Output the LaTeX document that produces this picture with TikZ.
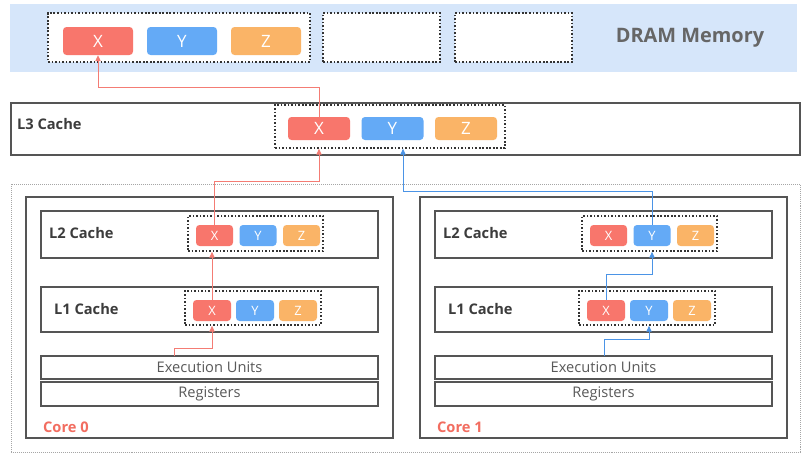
\documentclass[tikz,border=0pt]{standalone}
\usepackage{fontspec}
\setmainfont{Open Sans}
\usetikzlibrary{arrows.meta}

\definecolor{cellred}{HTML}{F8766C}
\definecolor{cellblue}{HTML}{64AAF6}
\definecolor{cellorange}{HTML}{FAB467}
\definecolor{drambg}{HTML}{D6E6FA}
\definecolor{boxline}{HTML}{555555}
\definecolor{labelgray}{HTML}{3C3C3C}
\definecolor{corered}{HTML}{F26D60}
\definecolor{pathred}{HTML}{F47C74}
\definecolor{pathblue}{HTML}{4B94E6}

\newcommand\px{0.03cm}
\newcommand\dramstyle{\fontsize{17}{20}\selectfont\bfseries}
\newcommand\cachestyle{\fontsize{12.5}{15}\selectfont\bfseries}
\newcommand\unitstyle{\fontsize{12.5}{15}\selectfont}

\tikzset{
  cell/.style={rounded corners=3pt, text=white, inner sep=0pt, font=\fontsize{14.5}{17}\selectfont},
  smallcell/.style={cell, font=\fontsize{11}{13}\selectfont},
  dotbox/.style={draw=black!80, fill=white, line width=1.4pt, dash pattern=on 1.4pt off 1.6pt, inner sep=0pt},
  cachebox/.style={draw=boxline, line width=1.1pt, fill=white, inner sep=0pt, text=black!65},
  cachelabel/.style={anchor=west, text=labelgray, font=\cachestyle},
  flowred/.style={draw=pathred, line width=0.8pt, -{Triangle[length=5pt,width=4.5pt]}},
  flowblue/.style={flowred, draw=pathblue},
}

% box node from two corners
\newcommand\boxnode[7]{
  \node[#7, minimum width={(#4-#2)*\px}, minimum height={(#5-#3)*\px}] (#1) at ({(#2+#4)/2},{(#3+#5)/2}) {#6};
}
% dotted group frame
\newcommand\dotframe[5]{
  \boxnode{#1}{#2}{#3}{#4}{#5}{}{dotbox}
}
% the three cache lines X, Y, Z
\newcommand\xyzcells[7]{
  \node[#7, fill=cellred, minimum width=#5*\px, minimum height=#6*\px] (#1x) at (#2, #3) {X};
  \node[#7, fill=cellblue, minimum width=#5*\px, minimum height=#6*\px] (#1y) at ({#2+#4}, #3) {Y};
  \node[#7, fill=cellorange, minimum width=#5*\px, minimum height=#6*\px] (#1z) at ({#2+2*#4}, #3) {Z};
}
% one core with its L1 and L2
\newcommand\core[2]{
  \begin{scope}[xshift=#2*\px]
    \boxnode{core#1}{26}{197}{393}{438}{}{cachebox}
    \boxnode{ltwo#1}{41}{211}{378}{258}{}{cachebox}
    \node[cachelabel] (ltwolabel#1) at (45,233) {L2 Cache};
    \dotframe{ltwodots#1}{188}{216}{323}{251}
    \xyzcells{ltwo#1}{214.5}{235.5}{43.5}{37}{21}{smallcell}
    \boxnode{lone#1}{41}{287}{378}{332}{}{cachebox}
    \node[cachelabel] (lonelabel#1) at (50,309) {L1 Cache};
    \dotframe{lonedots#1}{185}{291}{321}{325}
    \xyzcells{lone#1}{212}{310.5}{43}{38}{21}{smallcell}
    \boxnode{exec#1}{41}{356}{378}{379}{\unitstyle Execution Units}{cachebox}
    \boxnode{regs#1}{41}{382}{378}{406}{\unitstyle Registers}{cachebox}
    \node[anchor=west, text=corered, font=\cachestyle] (corelabel#1) at (39,427) {Core #1};
  \end{scope}
}

\begin{document}
\begin{tikzpicture}[x=\px, y=-\px]
  \useasboundingbox[fill=white] (0,0) rectangle (812,468);

  % DRAM
  \fill[drambg] (10,4) rectangle (797,72);
  \dotframe{dramdots}{48}{13}{310}{62}
  \xyzcells{dram}{98}{41}{84}{70}{28}{cell}
  \dotframe{dramfree1}{323}{13}{440}{62}
  \dotframe{dramfree2}{455}{13}{572}{62}
  \node[text=black!60, font=\dramstyle] (dramlabel) at (690,38) {DRAM Memory};

  % L3
  \boxnode{lthree}{11}{103}{800}{155}{}{cachebox}
  \node[cachelabel] (lthreelabel) at (13,124) {L3 Cache};
  \dotframe{lthreedots}{275}{105}{505}{148}
  \xyzcells{lthree}{319}{128.5}{73.5}{62}{23}{cell}

  % cores
  \node[draw=black!35, densely dotted, line width=0.7pt, minimum width=789*\px, minimum height=268*\px] (cores) at (405.5,318) {};
  \core{0}{0}
  \core{1}{394}

  % core 0 writes X
  \coordinate (redstart) at (174,356);
  \coordinate (redbend) at (174,348);
  \coordinate (redhop) at (0,181);
  \coordinate (dramhop) at (0,87);
  \draw[flowred] (redstart) -- (redbend) -| (lone0x |- lonedots0.south);
  \draw[flowred] (lone0x.north) -- (lone0x.north |- ltwodots0.south);
  \draw[flowred] (ltwo0x.north) |- (lthreex |- redhop) -- (lthreex |- lthreedots.south);
  \draw[flowred] (lthreex.north) |- (dramx.south |- dramhop) -- (dramx.south);

  % core 1 writes Y
  \coordinate (bluestart) at (604,356);
  \coordinate (bluebend) at (604,339);
  \coordinate (bluehop) at (0,274);
  \coordinate (bluetop) at (403,191);
  \draw[flowblue] (bluestart) -- (bluebend) -| (lone1y |- lonedots1.south);
  \draw[flowblue] (lone1x.north) |- (ltwo1y |- bluehop) -- (ltwo1y |- ltwodots1.south);
  \draw[flowblue] (ltwo1y.north) |- (bluetop) -- (bluetop |- lthreedots.south);
\end{tikzpicture}
\end{document}
